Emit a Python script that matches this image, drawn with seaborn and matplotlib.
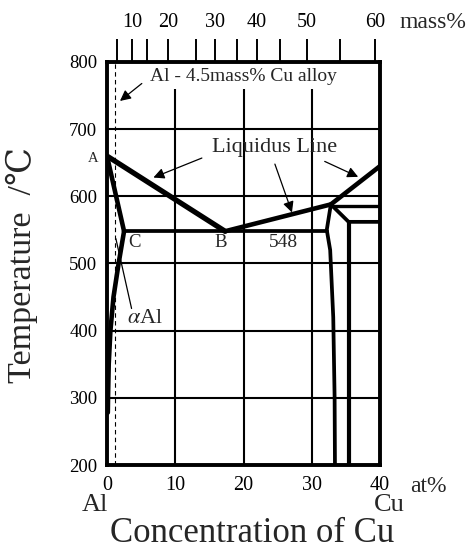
import matplotlib
matplotlib.use("Agg")
import matplotlib.pyplot as plt
import seaborn as sns
import pandas as pd

sns.set_theme(style="white")
plt.rcParams['font.family'] = ['Liberation Serif', 'DejaVu Serif']
plt.rcParams['mathtext.fontset'] = 'stix'

# ---- data (at% Cu, temperature degC) ----
x_ticks = [0, 10, 20, 30, 40]
y_ticks = [200, 300, 400, 500, 600, 700, 800]
grid_T = [300, 400, 500, 600, 700]
grid_x = [10, 20, 30]
mass_tick_at = [1.4, 3.7, 5.9, 9.0, 13.05, 15.8, 19.0, 22.0, 25.3, 29.3, 34.1, 39.3]
mass_tick_lbl = ["", "10", "", "20", "", "30", "", "40", "", "50", "", "60"]
alloy_x = 1.2

liq1_x = [0, 17.3]
liq1_T = [660, 548]
liq2_x = [17.3, 32.8]
liq2_T = [548, 588]
liq3_x = [32.8, 40]
liq3_T = [588, 645]
solidus_x = [0, 2.5]
solidus_T = [660, 548]
solvus_x = [2.5, 1.7, 0.95, 0.5, 0.25, 0.15, 0.12]
solvus_T = [548, 500, 450, 400, 350, 300, 278]
eut_x = [2.5, 32.3]
eut_T = [548, 548]
theta_l_x = [32.8, 32.2, 32.7, 33.15, 33.35, 33.4]
theta_l_T = [588, 550, 520, 420, 300, 200]
theta_top_x = [32.8, 40]
theta_top_T = [586, 586]
diag_x = [32.8, 35.4, 40]
diag_T = [588, 562, 562]
theta_r_x = [35.4, 35.4]
theta_r_T = [562, 200]

fig = plt.figure(figsize=(4.71, 5.52), dpi=100)
ax = fig.add_axes([107/471, 1-465/552, 273/471, 403/552])
ax.set_xlim(0, 40)
ax.set_ylim(200, 800)

# grid
for T in grid_T:
    ax.axhline(T, color='black', lw=1.5, zorder=1)
ax.vlines(grid_x, 200, 760, color='black', lw=1.5, zorder=1)
ax.vlines([alloy_x], 200, 800, color='black', lw=0.8, linestyles=(0, (4, 3)), zorder=1)

def seg(xs, ys, lw):
    df = pd.DataFrame({'x': xs, 'T': ys})
    sns.lineplot(data=df, x='x', y='T', sort=False, estimator=None, errorbar=None,
                 color='black', lw=lw, ax=ax, zorder=3,
                 solid_capstyle='round', solid_joinstyle='round')

seg(liq1_x, liq1_T, 3.8)
seg(liq2_x, liq2_T, 3.3)
seg(liq3_x, liq3_T, 3.3)
seg(solidus_x, solidus_T, 3.3)
seg(solvus_x, solvus_T, 3.3)
seg(eut_x, eut_T, 2.7)
seg(theta_l_x, theta_l_T, 2.7)
seg(theta_top_x, theta_top_T, 2.4)
seg(diag_x, diag_T, 2.7)
seg(theta_r_x, theta_r_T, 3.0)

ax.set_xlabel('')
ax.set_ylabel('')
ax.set_xticks(x_ticks)
ax.set_yticks(y_ticks)
ax.tick_params(axis='x', length=0, labelsize=14.5, colors='black', pad=8)
ax.tick_params(axis='y', length=0, labelsize=13.5, colors='black', pad=7)
for s in ax.spines.values():
    s.set_visible(True)
    s.set_color('black')
    s.set_linewidth(2.8)

# top mass% axis
ax2 = ax.twiny()
ax2.set_xlim(0, 40)
ax2.set_xticks(mass_tick_at)
ax2.set_xticklabels(mass_tick_lbl)
ax2.tick_params(axis='x', direction='out', length=16.5, width=1.4, pad=5,
                labelsize=14.5, colors='black')
for s in ax2.spines.values():
    s.set_visible(False)

# annotations
arw = dict(arrowstyle='-|>', color='black', lw=0.9, mutation_scale=16, shrinkA=0, shrinkB=0)
ax.text(6.3, 778, 'Al - 4.5mass% Cu alloy', fontsize=14, ha='left', va='center')
ax.annotate('', xy=(1.9, 742), xytext=(5.1, 768), arrowprops=arw)
ax.text(24.5, 672, 'Liquidus Line', fontsize=16, ha='center', va='center')
ax.annotate('', xy=(6.8, 628), xytext=(13.9, 657), arrowprops=arw)
ax.annotate('', xy=(27.1, 576), xytext=(24.6, 648), arrowprops=arw)
ax.annotate('', xy=(36.8, 629), xytext=(31.9, 652), arrowprops=arw)
ax.text(-2.05, 657, 'A', fontsize=10.5, ha='center', va='center')
ax.text(4.1, 532, 'C', fontsize=13.5, ha='center', va='center')
ax.text(16.6, 532, 'B', fontsize=13.5, ha='center', va='center')
ax.text(25.8, 531, '548', fontsize=14, ha='center', va='center')
ax.text(5.6, 418, r'$\alpha$Al', fontsize=16, ha='center', va='center')
ax.plot([3.6, 1.3], [433, 537], color='black', lw=0.9, zorder=2)

fig.text(400/471, 1-22/552, 'mass%', fontsize=17, ha='left', va='center')
fig.text(410/471, 1-487/552, 'at%', fontsize=17, ha='left', va='center')
fig.text(95/471, 1-505/552, 'Al', fontsize=19, ha='center', va='center')
fig.text(389/471, 1-505/552, 'Cu', fontsize=19, ha='center', va='center')
fig.text(252/471, 1-533/552, 'Concentration of Cu', fontsize=25, ha='center', va='center')
fig.text(22/471, 1-265/552, 'Temperature  /\u2103', fontsize=24.5, ha='center', va='center',
         rotation=90)

fig.savefig('out.png', dpi=100)
